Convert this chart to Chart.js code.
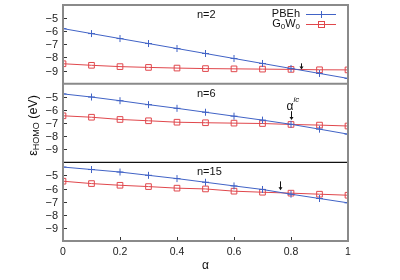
<!DOCTYPE html>
<html>
<head>
<meta charset="utf-8">
<script src="https://cdn.jsdelivr.net/npm/chart.js@4.4.0/dist/chart.umd.min.js"></script>
<style>
html, body { margin: 0; padding: 0; background: #fff; }
</style>
</head>
<body>
<canvas id="chart" width="400" height="280"></canvas>
<script>
// alpha values (x axis)
const alphas = [0, 0.1, 0.2, 0.3, 0.4, 0.5, 0.6, 0.7, 0.8, 0.9, 1];

// HOMO energies (eV)
const pbehN2  = [-5.80, -6.18, -6.56, -6.94, -7.32, -7.70, -8.08, -8.46, -8.84, -9.22, -9.60];
const g0w0N2  = [-8.48, -8.60, -8.70, -8.76, -8.81, -8.85, -8.87, -8.89, -8.91, -8.94, -8.95];
const pbehN6  = [-4.78, -5.02, -5.30, -5.60, -5.88, -6.18, -6.48, -6.78, -7.10, -7.47, -7.85];
const g0w0N6  = [-6.45, -6.56, -6.73, -6.83, -6.94, -6.98, -7.01, -7.04, -7.11, -7.16, -7.23];
const pbehN15 = [-4.36, -4.55, -4.74, -4.99, -5.24, -5.52, -5.80, -6.07, -6.43, -6.76, -7.09];
const g0w0N15 = [-5.44, -5.62, -5.75, -5.85, -5.97, -6.03, -6.20, -6.28, -6.35, -6.43, -6.51];

const panelLabels = ['n=2', 'n=6', 'n=15'];
const yTickValues = [-5, -6, -7, -8, -9];
const xTickValues = [0, 0.2, 0.4, 0.6, 0.8, 1];

// crossing points marked with arrows (alpha, arrow start, arrow tip)
const arrowAlpha = [0.835, 0.8, 0.761];
const arrowFrom  = [-8.45, -6.10, -5.45];
const arrowTo    = [-8.92, -6.78, -6.12];

const FONT = '"Liberation Sans", Arial, Helvetica, sans-serif';
const BLUE = '#4163c6';
const RED = '#e0474c';
const panelIds = ['y1', 'y2', 'y3'];

const pts = vals => vals.map((v, i) => ({ x: alphas[i], y: v }));

function pbehSet(vals, axis) {
    return { label: 'PBEh', data: pts(vals), yAxisID: axis, borderColor: BLUE, borderWidth: 1,
        pointStyle: 'cross', pointRadius: 3.5, pointBorderColor: BLUE, pointBorderWidth: 1, fill: false };
}
function g0w0Set(vals, axis) {
    return { label: 'G0W0', data: pts(vals), yAxisID: axis, borderColor: RED, borderWidth: 1,
        pointStyle: 'rect', pointRadius: 4, pointBorderColor: RED, pointBorderWidth: 1,
        pointBackgroundColor: 'rgba(0,0,0,0)', fill: false };
}

function yAxis(w) {
    return {
        type: 'linear', stack: 'panels', stackWeight: 1, weight: w,
        min: -10, max: -4,
        grid: { display: false, drawTicks: false }, border: { display: false },
        ticks: { display: false, stepSize: 1 },
        afterFit: s => { s.width = 63; }
    };
}

function line(ctx, x1, y1, x2, y2) {
    ctx.beginPath(); ctx.moveTo(x1, y1); ctx.lineTo(x2, y2); ctx.stroke();
}

const decorations = {
    id: 'decorations',
    afterDraw(chart) {
        const { ctx, chartArea: a, scales } = chart;
        const xs = scales.x;
        ctx.save();

        // inward tick marks and y tick labels
        ctx.strokeStyle = '#333';
        ctx.lineWidth = 1;
        ctx.fillStyle = '#222';
        ctx.font = '11px ' + FONT;
        ctx.textAlign = 'right';
        ctx.textBaseline = 'middle';
        panelIds.forEach(id => {
            yTickValues.forEach(v => {
                const y = Math.round(scales[id].getPixelForValue(v)) + 0.5;
                line(ctx, a.left, y, a.left + 4, y);
                ctx.fillText('\u2212' + Math.abs(v), a.left - 5, y);
            });
        });
        xTickValues.forEach(v => {
            const x = Math.round(xs.getPixelForValue(v)) + 0.5;
            line(ctx, x, a.bottom, x, a.bottom - 4);
        });

        // panel separators
        ctx.strokeStyle = '#8a8a8a';
        ctx.lineWidth = 2;
        line(ctx, a.left, scales.y1.bottom, a.right, scales.y1.bottom);
        ctx.strokeStyle = '#111';
        ctx.lineWidth = 1.2;
        line(ctx, a.left, scales.y2.bottom, a.right, scales.y2.bottom);

        // frame
        ctx.strokeStyle = '#8a8a8a';
        ctx.lineWidth = 2;
        ctx.strokeRect(a.left, a.top, a.right - a.left, a.bottom - a.top);

        // arrows
        ctx.strokeStyle = '#111';
        ctx.fillStyle = '#111';
        ctx.lineWidth = 1;
        panelIds.forEach((id, i) => {
            const x = Math.round(xs.getPixelForValue(arrowAlpha[i])) + 0.5;
            const y1 = scales[id].getPixelForValue(arrowFrom[i]);
            const y2 = scales[id].getPixelForValue(arrowTo[i]);
            line(ctx, x, y1, x, y2 - 2);
            ctx.beginPath();
            ctx.moveTo(x - 2, y2 - 3); ctx.lineTo(x + 2, y2 - 3); ctx.lineTo(x, y2); ctx.closePath();
            ctx.fill();
        });

        // panel labels
        ctx.fillStyle = '#111';
        ctx.textBaseline = 'middle';
        ctx.textAlign = 'left';
        ctx.font = '11px ' + FONT;
        panelIds.forEach((id, i) => {
            ctx.fillText(panelLabels[i], 197, scales[id].top + 10);
        });

        // alpha^ic label
        const ax = xs.getPixelForValue(arrowAlpha[1]);
        ctx.textAlign = 'center';
        ctx.font = '12px ' + FONT;
        ctx.fillText('\u03b1', ax - 1, scales.y2.getPixelForValue(arrowFrom[1]) - 5);
        ctx.textAlign = 'left';
        ctx.font = 'italic 8px ' + FONT;
        ctx.fillText('ic', ax + 2.5, scales.y2.getPixelForValue(arrowFrom[1]) - 11);

        // legend
        ctx.font = '11px ' + FONT;
        ctx.textAlign = 'right';
        ctx.fillText('PBEh', 300, 14);
        const sub = '8px ' + FONT;
        ctx.textAlign = 'left';
        const parts = [['G', false], ['0', true], ['W', false], ['0', true]];
        let total = 0;
        parts.forEach(p => { ctx.font = p[1] ? sub : '11px ' + FONT; total += ctx.measureText(p[0]).width; });
        let tx = 300 - total;
        parts.forEach(p => {
            ctx.font = p[1] ? sub : '11px ' + FONT;
            ctx.fillText(p[0], tx, p[1] ? 27 : 24);
            tx += ctx.measureText(p[0]).width;
        });
        ctx.lineWidth = 1;
        ctx.strokeStyle = BLUE;
        line(ctx, 306, 14.5, 336, 14.5);
        line(ctx, 321.5, 11, 321.5, 18);
        line(ctx, 318, 14.5, 325, 14.5);
        ctx.strokeStyle = RED;
        line(ctx, 306, 24.5, 336, 24.5);
        ctx.strokeRect(318.5, 21.5, 6, 6);

        // axis titles
        ctx.fillStyle = '#111';
        ctx.font = '12px ' + FONT;
        ctx.textAlign = 'center';
        ctx.fillText('\u03b1', (a.left + a.right) / 2, 266);

        ctx.translate(34, 125.5);
        ctx.rotate(-Math.PI / 2);
        const yParts = [['\u03b5', 'main'], ['HOMO', 'sub'], [' (eV)', 'main']];
        const mainF = '12.5px ' + FONT, subF = '9px ' + FONT;
        let w = 0;
        yParts.forEach(p => { ctx.font = p[1] === 'sub' ? subF : mainF; w += ctx.measureText(p[0]).width; });
        let px = -w / 2;
        ctx.textAlign = 'left';
        yParts.forEach(p => {
            ctx.font = p[1] === 'sub' ? subF : mainF;
            ctx.fillText(p[0], px, p[1] === 'sub' ? 3 : 0);
            px += ctx.measureText(p[0]).width;
        });

        ctx.restore();
    }
};

new Chart(document.getElementById('chart'), {
    type: 'line',
    data: {
        datasets: [
            pbehSet(pbehN2, 'y1'), g0w0Set(g0w0N2, 'y1'),
            pbehSet(pbehN6, 'y2'), g0w0Set(g0w0N6, 'y2'),
            pbehSet(pbehN15, 'y3'), g0w0Set(g0w0N15, 'y3')
        ]
    },
    options: {
        responsive: false,
        animation: false,
        layout: { padding: { left: 0, right: 52, top: 5, bottom: 0 } },
        plugins: { legend: { display: false }, tooltip: { enabled: false } },
        elements: { line: { tension: 0 } },
        scales: {
            x: {
                type: 'linear', min: 0, max: 1,
                grid: { display: false, drawTicks: false }, border: { display: false },
                ticks: {
                    stepSize: 0.2, padding: 5, color: '#222', font: { family: FONT, size: 10.5 },
                    callback: v => String(Math.round(v * 10) / 10)
                },
                afterFit: s => { s.height = 39; }
            },
            y1: yAxis(3),
            y2: yAxis(2),
            y3: yAxis(1)
        }
    },
    plugins: [decorations]
});
</script>
</body>
</html>
